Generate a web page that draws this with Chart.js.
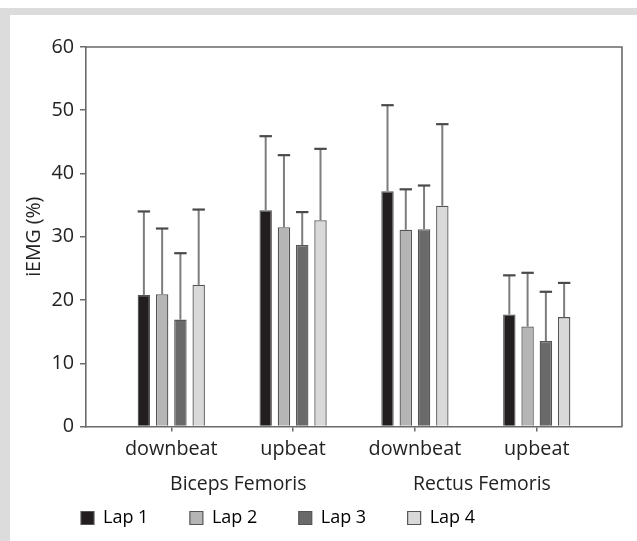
<!DOCTYPE html>
<html><head><meta charset="utf-8">
<script src="https://cdn.jsdelivr.net/npm/chart.js@4.4.1/dist/chart.umd.min.js"></script>
<style>
html,body{margin:0;padding:0;background:#fff;}
#wrap{position:relative;width:637px;height:541px;overflow:hidden;background:#fff;}
.band{position:absolute;background:#dcdcdc;}
canvas{position:absolute;left:0;top:0;}
</style></head><body>
<div id="wrap">
<div class="band" style="left:0;top:8px;width:637px;height:7px"></div>
<div class="band" style="left:0;top:8px;width:10px;height:533px"></div>
<canvas id="c" width="637" height="541" style="width:637px;height:541px"></canvas>
</div>
<script>
// ---- data ----
const categories = ['downbeat', 'upbeat', 'downbeat', 'upbeat'];
const muscles = ['Biceps Femoris', 'Rectus Femoris'];
const seriesNames = ['Lap 1', 'Lap 2', 'Lap 3', 'Lap 4'];
const lap1 = [20.8, 34.2, 37.2, 17.7];
const lap2 = [20.9, 31.5, 31.1, 15.8];
const lap3 = [16.9, 28.7, 31.2, 13.5];
const lap4 = [22.4, 32.6, 34.9, 17.3];
// upper error bar (SD)
const lap1Sd = [13.2, 11.7, 13.6, 6.2];
const lap2Sd = [10.4, 11.4, 6.4, 8.5];
const lap3Sd = [10.5, 5.2, 6.9, 7.8];
const lap4Sd = [11.9, 11.3, 12.9, 5.4];
const yTicks = [0, 10, 20, 30, 40, 50, 60];

const seriesValues = [lap1, lap2, lap3, lap4];
const seriesSd = [lap1Sd, lap2Sd, lap3Sd, lap4Sd];
const fills = ['#221e1f', '#b5b5b5', '#6a6a6a', '#d9d9d9'];

const FONT = "'Open Sans', 'DejaVu Sans', sans-serif";
const TXT = '#222222';
const AXIS = '#6a6a6a';

const datasets = seriesNames.map((name, s) => ({
  label: name,
  data: seriesValues[s].map((v, i) => ({x: i, y: v})),
  sd: seriesSd[s],
  backgroundColor: fills[s],
  borderColor: '#555555',
  borderWidth: 1.3,
  categoryPercentage: 0.6,
  barPercentage: 0.68
}));

const errorBars = {
  id: 'errorBars',
  afterDatasetsDraw(chart) {
    const ctx = chart.ctx;
    const y = chart.scales.y;
    chart.data.datasets.forEach((ds, di) => {
      const meta = chart.getDatasetMeta(di);
      meta.data.forEach((bar, i) => {
        const top = y.getPixelForValue(ds.data[i].y + ds.sd[i]);
        const half = bar.width / 2;
        ctx.save();
        ctx.strokeStyle = '#7d7d7d';
        ctx.lineWidth = 2;
        ctx.beginPath();
        ctx.moveTo(bar.x, bar.y);
        ctx.lineTo(bar.x, top);
        ctx.stroke();
        ctx.strokeStyle = '#4a4a4a';
        ctx.lineWidth = 2.2;
        ctx.beginPath();
        ctx.moveTo(bar.x - half, top);
        ctx.lineTo(bar.x + half, top);
        ctx.stroke();
        ctx.restore();
      });
    });
  }
};

const plotBox = {
  id: 'plotBox',
  afterDraw(chart) {
    const a = chart.chartArea, ctx = chart.ctx;
    ctx.save();
    ctx.strokeStyle = AXIS;
    ctx.lineWidth = 1.6;
    ctx.beginPath();
    ctx.moveTo(a.left, a.top);
    ctx.lineTo(a.right, a.top);
    ctx.lineTo(a.right, a.bottom);
    ctx.stroke();
    ctx.restore();
  }
};

const LEG_PAD = 41.5;

new Chart(document.getElementById('c'), {
  type: 'bar',
  data: {datasets},
  plugins: [errorBars, plotBox],
  options: {
    responsive: false,
    animation: false,
    devicePixelRatio: 1,
    layout: {padding: {left: 81 - LEG_PAD, top: 47, right: 15, bottom: 4}},
    plugins: {
      tooltip: {enabled: false},
      legend: {
        position: 'bottom',
        align: 'start',
        labels: {
          font: {family: FONT, size: 18},
          color: TXT,
          boxWidth: 13,
          boxHeight: 13,
          padding: LEG_PAD,
          generateLabels(chart) {
            return chart.data.datasets.map((ds, i) => ({
              text: ds.label,
              fillStyle: ds.backgroundColor,
              strokeStyle: '#555555',
              lineWidth: 1.2,
              datasetIndex: i
            }));
          }
        }
      }
    },
    scales: {
      x: {
        type: 'linear',
        position: 'bottom',
        offset: false,
        weight: 0,
        min: -0.7,
        max: categories.length - 1 + 0.7,
        afterBuildTicks(scale) { scale.ticks = categories.map((c, i) => ({value: i})); },
        afterFit(scale) { scale.height = 20; },
        ticks: {
          autoSkip: false,
          maxRotation: 0,
          mirror: true,
          padding: -35,
          font: {family: FONT, size: 19.8},
          color: TXT,
          callback(v) { return categories[v]; }
        },
        grid: {offset: false, drawOnChartArea: false, drawTicks: true, tickLength: 5, color: AXIS, lineWidth: 1.5},
        border: {display: true, color: AXIS, width: 1.6}
      },
      x2: {
        type: 'linear',
        position: 'bottom',
        offset: false,
        weight: 1,
        min: -0.7,
        max: categories.length - 1 + 0.7,
        afterBuildTicks(scale) { scale.ticks = muscles.map((m, i) => ({value: i * 2 + 0.55})); },
        afterFit(scale) { scale.height = 21; },
        ticks: {
          autoSkip: false,
          maxRotation: 0,
          mirror: true,
          padding: -49.5,
          font: {family: FONT, size: 19.4},
          color: TXT,
          callback(v, i) { return muscles[i]; }
        },
        grid: {display: false},
        border: {display: false}
      },
      y: {
        min: 0,
        max: 60,
        afterBuildTicks(scale) { scale.ticks = yTicks.map(v => ({value: v})); },
        afterFit(scale) { scale.width = 86 - (81 - LEG_PAD); },
        ticks: {
          padding: 6,
          font: {family: FONT, size: 19.8},
          color: TXT
        },
        grid: {drawOnChartArea: false, drawTicks: true, tickLength: 6, color: AXIS, lineWidth: 1.5},
        border: {display: true, color: AXIS, width: 1.6},
        title: {
          display: true,
          text: 'iEMG (%)',
          font: {family: FONT, size: 19.5},
          color: TXT,
          padding: {top: -17, bottom: 0}
        }
      }
    }
  }
});
</script>
</body></html>
